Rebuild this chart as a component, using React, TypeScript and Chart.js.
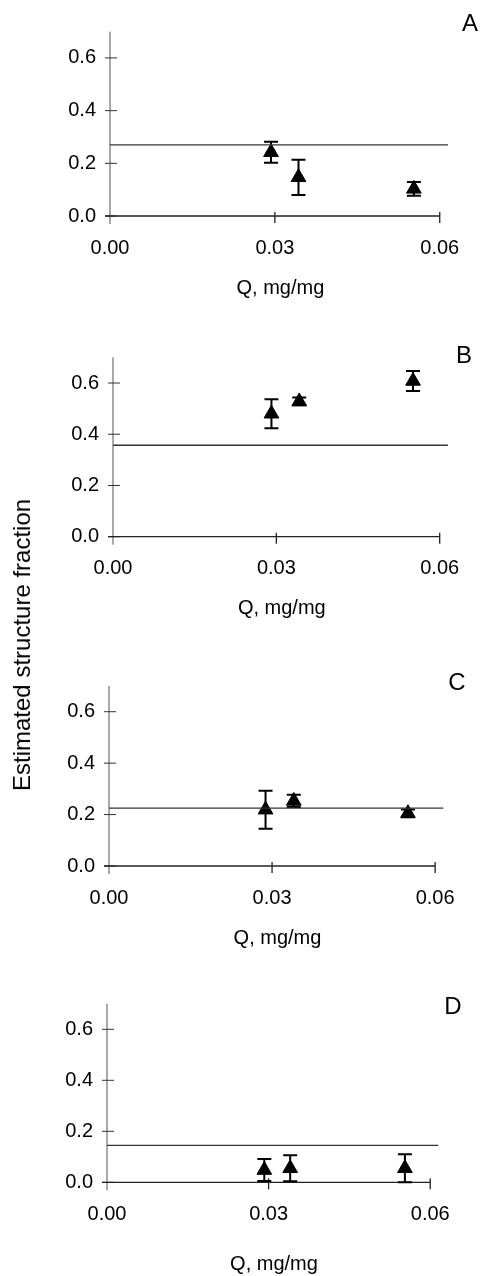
import React, { useEffect, useRef } from "react";
import { Chart, registerables } from "chart.js";

Chart.register(...registerables);

// ---------- data ----------
const X_TICKS = [0, 0.03, 0.06];
const Y_TICKS = [0, 0.2, 0.4, 0.6];
const X_MAX = 0.062;
const Y_MAX = 0.7;
const REF_LINE_END = 0.0615;

const PANEL_LABELS = ["A", "B", "C", "D"];
const X_TITLE = "Q, mg/mg";
const Y_TITLE = "Estimated structure fraction";

const Q_A = [0.0293, 0.0343, 0.0553];
const FRAC_A = [0.242, 0.147, 0.103];
const ERR_A = [0.04, 0.067, 0.026];
const REF_A = 0.27;

const Q_B = [0.0291, 0.0342, 0.0551];
const FRAC_B = [0.48, 0.528, 0.608];
const ERR_B = [0.057, 0.015, 0.039];
const REF_B = 0.357;

const Q_C = [0.0288, 0.034, 0.055];
const FRAC_C = [0.219, 0.253, 0.205];
const ERR_C = [0.074, 0.024, 0.015];
const REF_C = 0.225;

const Q_D = [0.0292, 0.034, 0.0553];
const FRAC_D = [0.048, 0.055, 0.055];
const ERR_D = [0.043, 0.051, 0.055];
const REF_D = 0.145;

// ---------- layout (positions in page pixels) ----------
const LAYOUT = [
  { top: 0, h: 320, left: 110, right: 455, areaTop: 31.6, areaBottom: 216, titlePad: 20, letter: [470, 24] },
  { top: 320, h: 320, left: 113, right: 454, areaTop: 37.4, areaBottom: 216.7, titlePad: 20, letter: [464, 36] },
  { top: 640, h: 320, left: 109, right: 446, areaTop: 46, areaBottom: 226, titlePad: 10, letter: [457, 43] },
  { top: 960, h: 316, left: 107, right: 441, areaTop: 43.8, areaBottom: 222.3, titlePad: 0, letter: [453, 47] },
];

const PANELS = [
  { q: Q_A, f: FRAC_A, e: ERR_A, ref: REF_A },
  { q: Q_B, f: FRAC_B, e: ERR_B, ref: REF_B },
  { q: Q_C, f: FRAC_C, e: ERR_C, ref: REF_C },
  { q: Q_D, f: FRAC_D, e: ERR_D, ref: REF_D },
];

const FONT = "'Liberation Sans', Arial, Helvetica, sans-serif";

const axesPlugin = {
  id: "customAxes",
  beforeDatasetsDraw(chart: any) {
    const { ctx, scales } = chart;
    const xs = scales.x;
    const ys = scales.y;
    const x0 = xs.getPixelForValue(0);
    const y0 = ys.getPixelForValue(0);
    ctx.save();
    // y axis
    ctx.strokeStyle = "#555";
    ctx.lineWidth = 1;
    ctx.beginPath();
    ctx.moveTo(x0, ys.getPixelForValue(Y_MAX));
    ctx.lineTo(x0, y0 + 8);
    ctx.stroke();
    // y ticks
    ctx.strokeStyle = "#333";
    Y_TICKS.forEach((v) => {
      const y = ys.getPixelForValue(v);
      ctx.beginPath();
      ctx.moveTo(x0 - 5, y);
      ctx.lineTo(x0 + 7, y);
      ctx.stroke();
    });
    // x axis
    ctx.strokeStyle = "#222";
    ctx.lineWidth = 1.3;
    ctx.beginPath();
    ctx.moveTo(x0 - 5, y0);
    ctx.lineTo(xs.getPixelForValue(X_TICKS[X_TICKS.length - 1]), y0);
    ctx.stroke();
    X_TICKS.forEach((v) => {
      if (v === 0) return;
      const x = xs.getPixelForValue(v);
      ctx.beginPath();
      ctx.moveTo(x, y0 - 4);
      ctx.lineTo(x, y0 + 7);
      ctx.stroke();
    });
    // error bars
    chart.data.datasets.forEach((ds: any) => {
      if (!ds.errors) return;
      ctx.strokeStyle = "#000";
      ctx.lineWidth = 2;
      ds.data.forEach((p: any, i: number) => {
        const e = ds.errors[i];
        const x = xs.getPixelForValue(p.x);
        const yt = ys.getPixelForValue(p.y + e);
        const yb = ys.getPixelForValue(p.y - e);
        ctx.beginPath();
        ctx.moveTo(x, yt);
        ctx.lineTo(x, yb);
        ctx.moveTo(x - 7, yt);
        ctx.lineTo(x + 7, yt);
        ctx.moveTo(x - 7, yb);
        ctx.lineTo(x + 7, yb);
        ctx.stroke();
      });
    });
    ctx.restore();
  },
  afterDraw(chart: any) {
    const o = chart.options.plugins.customAxes;
    if (!o) return;
    const { ctx } = chart;
    ctx.save();
    ctx.fillStyle = "#000";
    ctx.font = `24px ${FONT}`;
    ctx.textAlign = "center";
    ctx.textBaseline = "middle";
    ctx.fillText(o.letter, o.lx, o.ly);
    ctx.restore();
  },
};

function Panel({ idx }: { idx: number }) {
  const ref = useRef<HTMLCanvasElement | null>(null);
  const L = LAYOUT[idx];
  const P = PANELS[idx];
  useEffect(() => {
    if (!ref.current) return;
    const chart = new Chart(ref.current, {
      type: "scatter",
      data: {
        datasets: [
          {
            data: [
              { x: 0, y: P.ref },
              { x: REF_LINE_END, y: P.ref },
            ],
            showLine: true,
            borderColor: "#333",
            borderWidth: 1.4,
            pointRadius: 0,
          } as any,
          {
            data: P.q.map((q, i) => ({ x: q, y: P.f[i] })),
            errors: P.e,
            pointStyle: "triangle",
            pointRadius: 8.5,
            backgroundColor: "#000",
            borderColor: "#000",
            borderWidth: 1,
          } as any,
        ],
      },
      options: {
        animation: false,
        responsive: false,
        devicePixelRatio: 1,
        layout: {
          autoPadding: false,
          padding: { left: 0, top: L.areaTop, right: 480 - L.right, bottom: 0 },
        },
        plugins: {
          legend: { display: false },
          tooltip: { enabled: false },
          customAxes: { letter: PANEL_LABELS[idx], lx: L.letter[0], ly: L.letter[1] },
        } as any,
        scales: {
          x: {
            type: "linear",
            min: 0,
            max: X_MAX,
            grid: { display: false, drawTicks: false },
            border: { display: false },
            afterBuildTicks: (s: any) => {
              s.ticks = X_TICKS.map((v) => ({ value: v }));
            },
            afterFit: (s: any) => {
              s.height = L.h - L.areaBottom;
            },
            ticks: {
              padding: 20,
              color: "#000",
              font: { family: FONT, size: 20 },
              callback: (v: any) => Number(v).toFixed(2),
              maxRotation: 0,
              autoSkip: false,
            },
            title: {
              display: true,
              text: X_TITLE,
              color: "#000",
              font: { family: FONT, size: 20 },
              padding: { top: 0, bottom: L.titlePad },
            },
          },
          y: {
            type: "linear",
            min: 0,
            max: Y_MAX,
            grid: { display: false, drawTicks: false },
            border: { display: false },
            afterBuildTicks: (s: any) => {
              s.ticks = Y_TICKS.map((v) => ({ value: v }));
            },
            afterFit: (s: any) => {
              s.width = L.left;
            },
            ticks: {
              padding: 14,
              color: "#000",
              font: { family: FONT, size: 20 },
              callback: (v: any) => Number(v).toFixed(1),
              autoSkip: false,
            },
          },
        },
      },
      plugins: [axesPlugin],
    });
    return () => chart.destroy();
  }, []);
  return (
    <div style={{ position: "absolute", left: 0, top: L.top, width: 480, height: L.h }}>
      <canvas ref={ref} width={480} height={L.h} style={{ width: 480, height: L.h, display: "block" }} />
    </div>
  );
}

export default function App() {
  return (
    <div style={{ position: "absolute", left: 0, top: 0, width: 480, height: 1276, background: "#fff", overflow: "hidden" }}>
      {LAYOUT.map((_, i) => (
        <Panel key={i} idx={i} />
      ))}
      <div
        style={{
          position: "absolute",
          left: 22,
          top: 645,
          transform: "translate(-50%, -50%) rotate(-90deg)",
          whiteSpace: "nowrap",
          fontFamily: FONT,
          fontSize: 24,
          color: "#000",
        }}
      >
        {Y_TITLE}
      </div>
    </div>
  );
}
